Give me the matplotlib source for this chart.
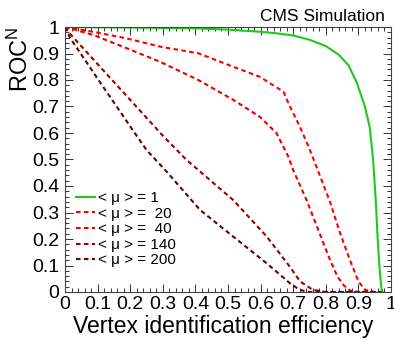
import matplotlib
matplotlib.use("Agg")
import matplotlib.pyplot as plt
from matplotlib.ticker import MultipleLocator, FuncFormatter

plt.rcParams['font.family'] = ['Liberation Sans', 'DejaVu Sans']
plt.rcParams['mathtext.fontset'] = 'custom'
plt.rcParams['mathtext.rm'] = 'Liberation Sans'
plt.rcParams['mathtext.it'] = 'Liberation Sans:italic'

# Data
labels = ["< \u03bc > = 1", "< \u03bc > =  20", "< \u03bc > =  40", "< \u03bc > = 140", "< \u03bc > = 200"]

x_mu1 = [0.0, 0.2, 0.4, 0.5, 0.6, 0.65, 0.7, 0.75, 0.8, 0.84, 0.87, 0.895, 0.92, 0.935, 0.945, 0.953, 0.96, 0.966, 0.971, 0.975]
y_mu1 = [1.0, 0.998, 0.995, 0.99, 0.982, 0.976, 0.968, 0.952, 0.928, 0.895, 0.855, 0.79, 0.70, 0.62, 0.50, 0.35, 0.18, 0.07, 0.01, 0.0]

x_mu20 = [0.0, 0.087, 0.189, 0.291, 0.409, 0.516, 0.598, 0.67, 0.69, 0.72, 0.75, 0.78, 0.813, 0.844, 0.874, 0.9, 0.92, 0.95, 0.97]
y_mu20 = [1.0, 0.982, 0.957, 0.926, 0.901, 0.85, 0.812, 0.756, 0.70, 0.625, 0.54, 0.445, 0.34, 0.221, 0.121, 0.04, 0.008, 0.0, 0.0]

x_mu40 = [0.0, 0.087, 0.189, 0.291, 0.409, 0.516, 0.598, 0.649, 0.685, 0.70, 0.741, 0.777, 0.81, 0.835, 0.855, 0.875, 0.9, 0.97]
y_mu40 = [1.0, 0.97, 0.92, 0.869, 0.80, 0.725, 0.661, 0.599, 0.511, 0.46, 0.347, 0.234, 0.13, 0.06, 0.025, 0.005, 0.0, 0.0]

x_mu140 = [0.0, 0.015, 0.1, 0.2, 0.3, 0.373, 0.414, 0.516, 0.619, 0.69, 0.721, 0.76, 0.8, 0.97]
y_mu140 = [1.0, 0.975, 0.86, 0.725, 0.59, 0.498, 0.455, 0.347, 0.209, 0.095, 0.04, 0.008, 0.0, 0.0]

x_mu200 = [0.0, 0.015, 0.1, 0.2, 0.25, 0.312, 0.414, 0.516, 0.619, 0.69, 0.72, 0.75, 0.97]
y_mu200 = [1.0, 0.96, 0.805, 0.625, 0.536, 0.454, 0.31, 0.209, 0.108, 0.033, 0.008, 0.0, 0.0]

series = [(x_mu1, y_mu1), (x_mu20, y_mu20), (x_mu40, y_mu40), (x_mu140, y_mu140), (x_mu200, y_mu200)]
colors = ['#1ec81e', '#ff0000', '#e80000', '#990000', '#660000']

fig = plt.figure(figsize=(3.94, 3.39), dpi=100)
ax = fig.add_axes([65/394, 1-292/339, (391-65)/394, (292-27)/339])

for i, ((xs, ys), c, lab) in enumerate(zip(series, colors, labels)):
    if i == 0:
        ax.plot(xs, ys, color=c, lw=1.5, label=lab)
    else:
        ax.plot(xs, ys, color=c, lw=1.5, dashes=(2.2, 1.6), label=lab)

ax.set_xlim(0, 1)
ax.set_ylim(0, 1)
ax.xaxis.set_major_locator(MultipleLocator(0.1))
ax.xaxis.set_minor_locator(MultipleLocator(0.02))
ax.yaxis.set_major_locator(MultipleLocator(0.1))
ax.yaxis.set_minor_locator(MultipleLocator(0.02))
fmt = FuncFormatter(lambda v, p: '%g' % round(v, 2))
ax.xaxis.set_major_formatter(fmt)
ax.yaxis.set_major_formatter(fmt)
ax.tick_params(which='both', direction='in', top=True, right=True, labelsize=14, width=0.7, color='#333333')
ax.tick_params(which='major', length=5.5)
ax.tick_params(which='minor', length=2.8)
ax.tick_params(axis='x', pad=3)
ax.tick_params(axis='y', pad=4)
for s in ax.spines.values():
    s.set_color('#444444')
    s.set_linewidth(0.8)

ax.set_xlabel('Vertex identification efficiency', fontsize=16.5, loc='right')
ax.xaxis.set_label_coords(0.945, -0.085)
ax.set_ylabel('ROC$^{\\mathrm{N}}$', fontsize=17, loc='top')
ax.yaxis.set_label_coords(-0.098, 1.0)

fig.text(385/394, 1-21/339, 'CMS Simulation', fontsize=12.5, ha='right', va='baseline')

leg = ax.legend(loc='upper left', bbox_to_anchor=(0.035, 0.38), frameon=False, fontsize=11,
                handlelength=1.2, handletextpad=0.2, labelspacing=0.1, borderpad=0, borderaxespad=0)

fig.savefig('out.png', dpi=100)
